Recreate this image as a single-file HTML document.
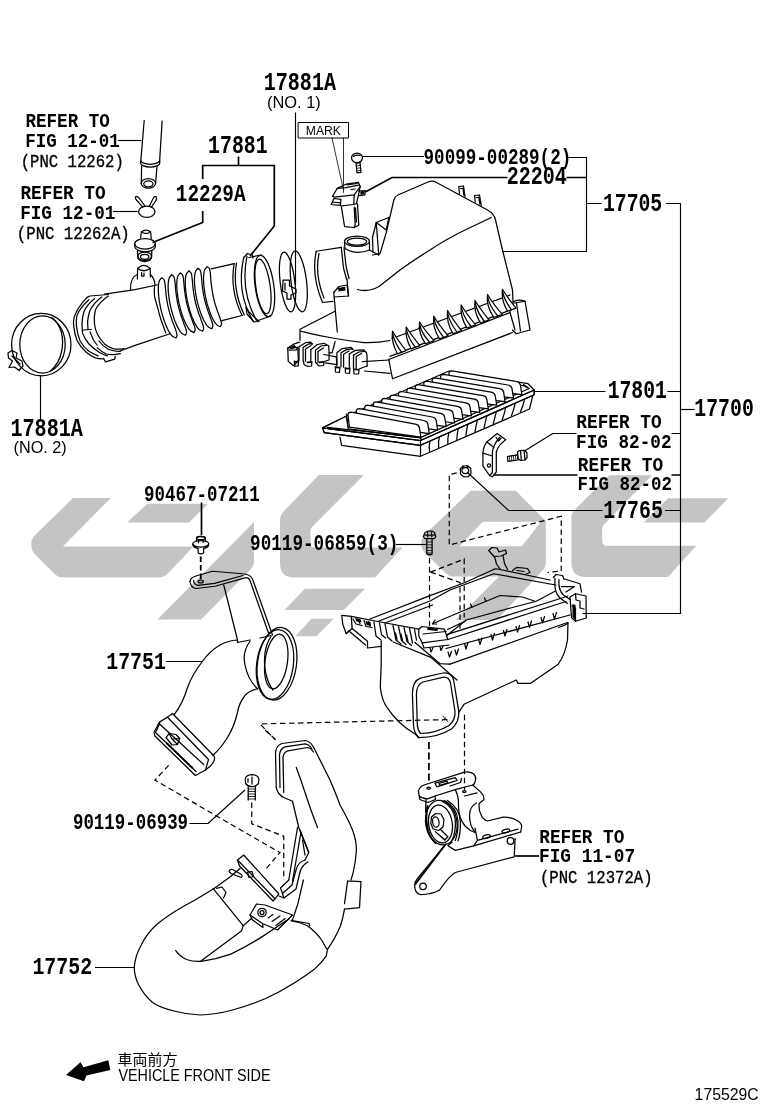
<!DOCTYPE html>
<html><head><meta charset="utf-8"><title>175529C</title>
<style>html,body{margin:0;padding:0;background:#fff}svg{display:block;will-change:transform}
.l{fill:none;stroke:#000;stroke-width:1.25;stroke-linecap:round;stroke-linejoin:round}
.t{fill:none;stroke:#000;stroke-width:0.8;stroke-linecap:round;stroke-linejoin:round}
.w{fill:#fff;stroke:#000;stroke-width:1.25;stroke-linecap:round;stroke-linejoin:round}
.k{fill:none;stroke:#000;stroke-width:1.7;stroke-linecap:butt;stroke-linejoin:miter}
.d{fill:none;stroke:#000;stroke-width:1.2;stroke-dasharray:5.5 3.5}
.b{fill:#000;stroke:none}
</style></head><body>
<svg width="760" height="1112" viewBox="0 0 760 1112">
<rect width="760" height="1112" fill="#fff"/>
<!-- watermark -->
<g fill="#c4c4c4" stroke="none">
<path d="M73 498 L110.8 498 L62.8 546.5 L193.4 546.5 L169 572.5 Q164.5 577.5 158 577.5 L64 577.5 Q58 577.5 54 573.5 L35 554.5 Q31.3 550.5 31.3 545 L31.3 544 Q31.3 538.5 35.5 534.5 Z"/>
<path d="M147.5 503.75 L208 503.75 L189 522.5 L127 522.5 Z"/>
<path d="M254 522 L254 562 Q254 566 251 569 L201 619.6 L157.5 619.6 Z"/>
<path d="M318.75 475 L363.75 475 L312 527 Q310.5 528.5 310.5 531 L310.5 543 Q310.5 547.5 315 547.5 L402.5 547.5 L375 577.5 L294 577.5 Q280 577.5 280 563 L280 521 Q280 515 284 511 Z"/>
<path d="M305 588.75 L365 588.75 L343.75 610 L284.5 610 Z"/>
<path d="M311.25 618.75 L333.75 618.75 L316.25 636.25 L295.5 636.25 Z"/>
<path fill-rule="evenodd" d="M470.8 490.7 L515.8 490.7 L545.8 521 L545.8 562 Q545.8 567 542.5 570.5 L497 620 L455.7 620 L499 576.5 L453 576.5 Q449 576.5 446 573.5 L424.5 552.5 Q421.6 549.5 421.6 546 L421.6 541 Q421.6 538 424 535.5 Z M482.6 521.8 L541 521.8 L522 546.3 L459.7 546.3 Z"/>
<path d="M609.3 475.2 L652 475.2 L603.5 525 Q602.2 526.5 602.2 529 L602.2 541 Q602.2 545.8 607 545.8 L696.2 545.8 L668 577 L586 577 Q571.4 577 571.4 563 L571.4 516 Q571.4 513 573.5 511 Z"/>
<path d="M668 498.2 L728.2 498.2 L704.5 522.6 L643.6 522.6 Z"/>
</g>

<!-- dashes -->
<g class="d">
<path d="M456.8 472.9 L449.25 474.5 V545 L561.25 516.25 V571 L547.5 572.5"/>
<path d="M429.5 558 V626"/>
<path d="M430.5 572.1 L464.2 559 V617.5"/>
<path d="M430.5 572.1 L460 582.5 V630"/>
<path d="M447.4 719.6 L259.9 723.9 L274.7 739.3"/>
<path d="M464.5 714.7 V790"/>
<path d="M168.7 765.4 L154.9 780.1 L230 823.75 L280 852.5 L265 870"/>
<path d="M251.75 802.5 V823.75 L283.75 836.25 V880"/>
<path d="M265 730 L276 740"/>
</g>
<path class="t" d="M443 716 L448 722 M442 721 L446 717.5"/>

<!-- pipes -->
<g class="l">
<path d="M144.2 120.3 L140.8 161"/>
<path d="M162.1 121 L159.6 161"/>
<path d="M140.8 160.5 A9.4 3.8 0 0 0 159.6 160.5 M140.6 163 A9.6 4 0 0 0 159.8 163 M140.8 160.5 L140.6 163 M159.6 160.5 L159.8 163"/>
<path d="M141.6 166 L141.3 184 M157 166.5 L155.6 183.5"/>
<ellipse cx="148.4" cy="183.3" rx="7.2" ry="4.8"/>
<ellipse cx="148.4" cy="183.8" rx="4.6" ry="3"/>
<ellipse cx="146.8" cy="211.7" rx="8.2" ry="5.6"/>
<path d="M142.5 206.8 L136 199.5 Q134.3 196.5 136.5 196.3 Q138.6 196.8 140.2 199.5 L145 206.2"/>
<path d="M149.3 206.2 L153.2 198.3 Q154.6 195.8 156.2 196.8 Q157.2 198.3 155.6 201 L151.6 206.8"/>
<path d="M140.6 238 L141.4 231.8 Q146 228.3 150.6 231.8 L151.2 238.5"/>
<path d="M142.5 232.5 Q146 234.5 149.8 232.5"/>
<ellipse cx="145" cy="243.8" rx="10.3" ry="5.2"/>
<path d="M134.7 244 L134.8 247 A10.3 5.3 0 0 0 155.3 247 L155.3 244"/>
<path d="M137.6 251 L137.8 257 A6.9 4.6 0 0 0 151.6 257 L151.8 251"/>
<ellipse cx="144.7" cy="256.3" rx="6.8" ry="4.2"/>
<ellipse cx="144.7" cy="256.8" rx="4.2" ry="2.5"/>
<path d="M137.4 279 L137.6 268.5 Q143.9 262 150.2 268.5 L150.4 277"/>
<path d="M137.6 268.5 Q143.9 273 150.2 268.5"/>
<path d="M141.6 272.5 V276 H144 V273"/>
<path d="M130.5 290.5 Q130 277 137.4 274.5 M150.4 274.5 Q154.5 278 155 285"/>
</g>

<!-- hose -->
<g class="l">
<!-- clamp NO.2 -->
<ellipse cx="41.3" cy="344.6" rx="29.7" ry="31.2"/>
<ellipse cx="42.5" cy="344.5" rx="22.7" ry="28.6"/>
<path d="M52 317.5 Q66 330 61.5 352 Q59 364 50 371.5"/>
<path d="M8 353 L12 350.5 L17 353 L16 358 L22 361 L23 366 L19 370.5 L14.5 367 L9 367.5 L12.5 361 L8.5 358 Z"/>
<path d="M12 356 L20 364"/>
<!-- hose left end rings -->
<path d="M87.1 297.4 Q77 308 74.2 317.2 Q73 322 73.75 326.4 Q74.5 334 77 340.3 Q80.5 347.5 86.2 352.2 Q90.5 355.8 95.4 357.8 Q99.5 359 103.7 358.7"/>
<path d="M88.9 299.7 Q80 307.5 77 315.4 Q75.8 321 76.5 326.4 Q77.3 334.5 80.2 341.2 Q83.8 347.5 89 351.3 Q93.5 354.3 98.2 355.9"/>
<path d="M94.5 298.8 Q87 304.5 83.9 311.7 Q82 318 82 324.6 L82.5 332.9 Q84.5 339 89 344 Q93.5 348.8 99.1 352.2 Q103 354.5 107.4 355.9"/>
<path d="M101.8 297 Q93 303.5 89.9 310.8 Q88 316 87.6 321.8 L88 329.2 M83.5 330 L91 329.5"/>
<path d="M108.3 296 Q99 302.5 95.4 309.9 Q93.7 317 94.5 323.7 Q95 329 97.2 333.8 Q100 339.5 104.6 343.9 Q108.5 347 112.9 348.6 Q118 349.8 124 348.6"/>
<path d="M99 341 Q103 346.5 108.3 349.3 Q114 351.8 120.3 351.3"/>
<path d="M97.2 347.6 Q101 351.5 106.4 354 Q113 355.3 120.3 353.6"/>
<path d="M90 332 L93.5 340 L97 345"/>
<path d="M87.1 297.4 L90 296 L108.3 294.5"/>
<path d="M103.7 358.7 L105.5 361.9 L114.7 359.1 L115.2 356.4"/>
<!-- tube left -->
<path d="M104.6 294.2 L135 289.6 L159 284.5"/>
<path d="M120 351 L135 345.3 L170 333.75"/>
<!-- tube right smooth -->
<path d="M211.2 268.8 L234.2 263.6"/>
<path d="M221 320.8 L242 315.5"/>
</g>
<g class="w">
<path d="M207.2 266.6 L204.9 269.4 L204.1 271.8 L203.8 274.1 L203.6 276.4 L203.5 278.7 L203.6 280.9 L203.7 283.1 L203.8 285.3 L204.1 287.5 L204.3 289.7 L204.7 291.9 L205.0 294.1 L205.4 296.2 L205.9 298.4 L206.4 300.5 L206.9 302.7 L207.5 304.8 L208.1 306.9 L208.8 309.0 L209.5 311.1 L210.3 313.2 L211.1 315.2 L212.0 317.3 L213.0 319.3 L214.1 321.3 L215.5 323.3 L217.1 325.2 L220.4 326.7 L220.4 326.7 L221.6 324.2 L221.2 322.0 L220.6 319.9 L219.9 317.8 L219.2 315.7 L218.4 313.6 L217.6 311.6 L216.9 309.5 L216.2 307.4 L215.5 305.3 L214.9 303.2 L214.3 301.0 L213.8 298.9 L213.3 296.8 L212.9 294.6 L212.5 292.4 L212.1 290.3 L211.8 288.1 L211.5 285.9 L211.2 283.7 L211.0 281.5 L210.8 279.3 L210.7 277.1 L210.5 274.9 L210.3 272.7 L209.9 270.5 L209.3 268.4 L207.2 266.6 Z"/>
<path d="M198.0 268.2 L195.7 271.0 L195.0 273.4 L194.6 275.8 L194.5 278.1 L194.4 280.4 L194.5 282.6 L194.6 284.9 L194.8 287.1 L195.1 289.3 L195.4 291.5 L195.7 293.7 L196.1 295.9 L196.5 298.1 L197.0 300.3 L197.5 302.4 L198.1 304.6 L198.7 306.7 L199.3 308.8 L200.0 310.9 L200.7 313.0 L201.5 315.1 L202.4 317.2 L203.3 319.3 L204.3 321.3 L205.5 323.3 L206.8 325.3 L208.5 327.2 L211.8 328.7 L211.8 328.7 L212.9 326.2 L212.6 324.0 L212.0 321.8 L211.2 319.7 L210.4 317.6 L209.7 315.5 L208.9 313.5 L208.1 311.4 L207.4 309.2 L206.7 307.1 L206.1 305.0 L205.5 302.9 L204.9 300.7 L204.4 298.6 L203.9 296.4 L203.5 294.2 L203.1 292.0 L202.8 289.8 L202.5 287.6 L202.2 285.4 L202.0 283.2 L201.8 281.0 L201.6 278.7 L201.4 276.5 L201.1 274.3 L200.8 272.1 L200.1 270.0 L198.0 268.2 Z"/>
<path d="M188.8 270.8 L186.5 273.6 L185.8 276.0 L185.4 278.4 L185.3 280.7 L185.2 283.0 L185.3 285.2 L185.4 287.5 L185.6 289.7 L185.9 291.9 L186.2 294.1 L186.5 296.3 L186.9 298.5 L187.3 300.7 L187.8 302.9 L188.3 305.0 L188.9 307.2 L189.5 309.3 L190.1 311.4 L190.8 313.5 L191.5 315.6 L192.3 317.7 L193.2 319.8 L194.1 321.9 L195.1 323.9 L196.3 325.9 L197.6 327.9 L199.3 329.8 L202.6 331.3 L202.6 331.3 L203.7 328.8 L203.4 326.6 L202.8 324.4 L202.0 322.3 L201.2 320.2 L200.5 318.1 L199.7 316.1 L198.9 314.0 L198.2 311.8 L197.5 309.7 L196.9 307.6 L196.3 305.5 L195.7 303.3 L195.2 301.2 L194.7 299.0 L194.3 296.8 L193.9 294.6 L193.6 292.4 L193.3 290.2 L193.0 288.0 L192.8 285.8 L192.6 283.6 L192.4 281.3 L192.2 279.1 L191.9 276.9 L191.6 274.7 L190.9 272.6 L188.8 270.8 Z"/>
<path d="M180.3 272.8 L178.0 275.6 L177.3 278.0 L176.9 280.3 L176.8 282.6 L176.7 284.9 L176.8 287.1 L176.9 289.3 L177.1 291.5 L177.4 293.7 L177.7 295.9 L178.0 298.1 L178.4 300.2 L178.8 302.4 L179.3 304.5 L179.8 306.7 L180.4 308.8 L181.0 310.9 L181.6 313.0 L182.3 315.1 L183.0 317.2 L183.8 319.2 L184.7 321.3 L185.6 323.3 L186.6 325.3 L187.8 327.3 L189.1 329.2 L190.8 331.1 L194.1 332.6 L194.1 332.6 L195.2 330.1 L194.9 327.9 L194.3 325.8 L193.5 323.7 L192.7 321.7 L192.0 319.6 L191.2 317.5 L190.4 315.5 L189.7 313.4 L189.0 311.3 L188.4 309.2 L187.8 307.1 L187.2 304.9 L186.7 302.8 L186.2 300.7 L185.8 298.5 L185.4 296.4 L185.1 294.2 L184.8 292.0 L184.5 289.8 L184.3 287.6 L184.1 285.4 L183.9 283.2 L183.7 281.0 L183.4 278.8 L183.1 276.7 L182.4 274.6 L180.3 272.8 Z"/>
<path d="M171.7 274.7 L169.4 277.5 L168.7 279.9 L168.3 282.3 L168.2 284.6 L168.1 286.9 L168.2 289.2 L168.3 291.4 L168.5 293.6 L168.8 295.9 L169.1 298.1 L169.4 300.3 L169.8 302.5 L170.2 304.6 L170.7 306.8 L171.2 309.0 L171.8 311.1 L172.4 313.2 L173.0 315.4 L173.7 317.5 L174.4 319.6 L175.2 321.7 L176.1 323.8 L177.0 325.9 L178.0 327.9 L179.2 329.9 L180.5 331.9 L182.2 333.8 L185.5 335.3 L185.5 335.3 L186.6 332.8 L186.3 330.6 L185.7 328.4 L184.9 326.3 L184.1 324.2 L183.4 322.1 L182.6 320.0 L181.8 317.9 L181.1 315.8 L180.4 313.7 L179.8 311.6 L179.2 309.4 L178.6 307.3 L178.1 305.1 L177.6 302.9 L177.2 300.8 L176.8 298.6 L176.5 296.4 L176.2 294.2 L175.9 292.0 L175.7 289.7 L175.5 287.5 L175.3 285.3 L175.1 283.0 L174.8 280.8 L174.5 278.6 L173.8 276.5 L171.7 274.7 Z"/>
<path d="M161.8 277.6 L159.5 280.4 L158.8 282.9 L158.5 285.2 L158.3 287.5 L158.3 289.8 L158.4 292.1 L158.5 294.3 L158.8 296.5 L159.0 298.7 L159.3 300.9 L159.7 303.1 L160.1 305.3 L160.5 307.5 L161.0 309.7 L161.5 311.8 L162.1 313.9 L162.7 316.1 L163.4 318.2 L164.1 320.3 L164.8 322.4 L165.6 324.5 L166.5 326.6 L167.4 328.6 L168.5 330.7 L169.6 332.7 L171.0 334.6 L172.7 336.5 L176.0 338.0 L176.0 338.0 L177.1 335.5 L176.7 333.3 L176.1 331.1 L175.4 329.0 L174.6 327.0 L173.8 324.9 L173.0 322.8 L172.2 320.7 L171.5 318.6 L170.8 316.5 L170.1 314.3 L169.5 312.2 L168.9 310.1 L168.4 307.9 L167.9 305.8 L167.5 303.6 L167.1 301.4 L166.7 299.2 L166.4 297.0 L166.1 294.8 L165.9 292.6 L165.7 290.4 L165.4 288.1 L165.2 285.9 L165.0 283.7 L164.6 281.5 L163.9 279.4 L161.8 277.6 Z"/>
</g>
<path class="l" d="M154.5 286 Q153.5 296 156.3 302.9 Q160 319 165.8 332.9"/>
<g class="l">
<!-- cuff lines -->
<path d="M234.2 263.6 Q229.5 290 242.1 315.5"/>
<path d="M236.5 263 Q232 289.5 244.3 315"/>
<!-- clamp ring on hose end -->
<path d="M243.75 257.5 Q236 292 253 321"/>
<path d="M247 256 Q240 291 256.5 320.5"/>
<path d="M243.75 257.5 L247.5 253.5 L252.5 255 L253 258"/>
<path d="M246 307 L249 312 L259 321.5 L254 322 L247 314 Z"/>
<!-- end opening -->
<ellipse cx="264.5" cy="286" rx="9.3" ry="31" transform="rotate(-8 264.5 286)"/>
<ellipse cx="263" cy="286.5" rx="7.2" ry="27.5" transform="rotate(-8 263 286.5)"/>
<path d="M249 257.5 L261 255"/>
<path d="M258 320.5 L269.5 316.5"/>
<!-- clamp NO.1 -->
<ellipse cx="287.5" cy="282" rx="7.3" ry="30" transform="rotate(-7 287.5 282)"/>
<ellipse cx="298.75" cy="281.5" rx="7.8" ry="30.5" transform="rotate(-7 298.75 281.5)"/>
<path d="M283 280 H289.5 V286 L296 289 V293 L291 295 V299 H287 V293 L282.5 291 Z"/>
<path d="M285 283 V290"/>
</g>

<!-- cap -->
<g class="l">
<!-- screw 90099 -->
<ellipse cx="357" cy="157.8" rx="5.5" ry="4.8"/>
<path d="M353.5 156.5 Q356 154.5 360 155.5"/>
<path d="M356 162.5 L357 172.8 L361 172.3 L360 162.3"/>
<path class="t" d="M356 163.5 L360 162.8 M356.3 166 L360.2 165.3 M356.6 168.5 L360.4 167.8 M356.9 171 L360.5 170.3"/>
<!-- MAF sensor 22204 -->
<path d="M332.6 196.2 L337.2 188.4 L345.9 184.2 L358.4 182.4 L360.2 186.5 L358.8 193.4 L356.5 203.6 L353.8 204.5 L341.8 205.9"/>
<path d="M337.2 188.4 L346 187.6 L358.5 185.2 M332.6 196.2 L334.4 197.1 L354.2 194.8 L360.2 186.5 M354.2 194.8 L353.8 204.5"/>
<path d="M347 184.8 L357 183.5 M351 189.5 L355 189"/>
<path d="M331.2 204.5 L334 198.5 L340.9 199.4 L340.4 205.4 Z M332.5 202 L340.6 202.8"/>
<path d="M358.8 191.1 L365.3 190.7 L364.8 194.8 L358.8 195.7 M361 192.3 L363.5 192.1 L363.3 193.6 L361 193.8 Z"/>
<path d="M341.3 206.3 L344.6 226.6 L354.2 227.5 L358.8 225.2 L357.5 204"/>
<path d="M354.2 207.2 L355.2 224.7 L354.2 227.5 M355.5 208 L356.5 222"/>
<!-- inlet tube of cap -->
<path d="M316.25 251.25 Q311 275 322.5 302.5"/>
<path d="M319 253.5 Q314.5 275 324 298"/>
<path d="M316.25 251.25 L341.25 247.3"/>
<path d="M322.5 302.5 L333 301.3"/>
<ellipse cx="357" cy="241.25" rx="12.5" ry="5.2"/>
<ellipse cx="357" cy="241.6" rx="9.8" ry="3.6"/>
<path d="M344.5 242 L345 248.5 Q356 255.5 369.5 250 L369.5 242"/>
<path d="M341.25 247.3 L343.5 268 L346.5 279 M344 247.5 L346 266 L349 278.5"/>
<path d="M372.5 237.5 L373 252.5 M369.5 250 L378.75 255"/>
<path d="M376.25 222.5 L388.75 217.5 L386.25 230 Z"/>
<path d="M376.25 222.5 L378.75 255"/>
<path d="M376.25 222.5 L372.5 237.5"/>
<!-- small bracket -->
<path d="M333.75 292.5 L339 286.5 L347 285 L348.5 296 L334 297"/>
<path class="b" d="M338 288 L345 286.8 L345.5 290.5 L338.5 291.5 Z"/>
<!-- neck -->
<path d="M333.75 292.5 L337.3 332"/>
<path d="M347 279 L348.5 296"/>
<!-- dome -->
<path d="M372.5 255 L380 253.75 L386.25 232.5 L394 199.5 Q395 196.3 398 195 L428 182 Q432.5 180 436.5 182.5 L487.5 210 Q494 213.5 495.5 220 L502.5 250 L512.5 290 L513 302"/>
<path d="M491.25 217.5 L462.5 231.25 Q444 240.5 430 250 Q413 260.5 400 270 Q388 279.5 379 286.5 Q368 292.5 357.5 289.5"/>
<path d="M458.75 186.5 L459.5 193.5 M458.75 186.5 L463.5 186 L465 196.5 M460.5 188.5 L463 188.3 L463.8 195"/>
<path d="M474.5 195.5 L475.3 202 M474.5 195.5 L479.5 195 L481.3 205.5 M476.3 197.5 L478.8 197.3 L479.8 204"/>
<!-- base -->
<path d="M335.5 311 L300 329.2 L300 340.3"/>
<path d="M305.5 332.4 Q318 335.5 332.4 338 Q349 341 364 342.6 Q378 343 390 340.5"/>
<path d="M305.5 332.4 L300.5 331"/>
<!-- clips group 1 -->
<path d="M287.7 348 L288.3 361.6 L293.7 365.8 L298.4 360.5 L297.8 347.4 Z"/>
<path d="M287.7 348 L294.3 343.9 L299.6 342.1 M289 350.2 L296.5 349.8 L297.8 347.4"/>
<path class="b" d="M289 347.5 L294.5 345 L296.5 347.2 L291 349.5 Z"/>
<path d="M299 360.5 L299 346.8 L305.5 342.7 L310.8 342.1 L312 344.5"/>
<path d="M303.1 361 L303.1 347.4 L309 343.8 L312.5 343.6"/>
<path d="M305.5 361 L305.5 349 L311 345.5"/>
<path d="M310.8 361.5 L310.8 349.8 L317.3 344.5 L323.9 343.3 L328.6 345.7 L329.2 352.8"/>
<path d="M315.5 362.5 L315.5 350.2 L321 346 L326.5 345.3"/>
<path d="M318 362.5 L318 351.5 L323.5 348"/>
<path d="M294.3 361 L294.6 366.2 L298.2 366 L298.6 361.5 M303.5 361 L304 364.5 L307.3 366.3 L311.5 366 L312 361.8 M315.8 362.5 L318.8 365.8 L323.5 365.5 L324 361.5 L329 360 L329.2 352.8"/>
<path class="b" d="M294.5 361 L298.4 360.7 L298.4 362.5 L294.5 362.8 Z M306.8 361.5 L311.8 361.3 L311.8 363 L306.8 363.2 Z M319 361.5 L323.8 361 L323.8 362.8 L319 363.2 Z"/>
<path d="M323.9 354.5 L336.3 356.9 L336.9 364.6 L325 362.8"/>
<path d="M335.1 341.5 L332.1 352.8 L329.2 352.8"/>
<!-- clips group 2 -->
<path d="M336.9 366 L336.9 352.8 L342.2 348.6 L351.1 347.4 L353 349.5"/>
<path d="M341 366.5 L341 352.8 L346.5 349.6 L352.5 348.8"/>
<path d="M343.6 367 L343.6 354.2 L349 351"/>
<path d="M349.3 367.5 L349.3 354 L355.2 350.4 L363.5 349.8 L366.5 352.8 L367.1 356.3 L367.1 366"/>
<path d="M353.5 368.2 L353.5 355.1 L359 352 L365 351.3"/>
<path d="M356.2 368.5 L356.2 356.5 L361.5 353.5"/>
<path d="M335.2 366.5 L335.5 372 L339.5 372.3 L340 367 M345.2 367.5 L345.5 373 L349.6 373.3 L350 368 M353.5 368.5 L354 373.8 L358.6 374 L359 369 L367.1 366"/>
<path class="b" d="M335.4 366.4 L339.8 366.8 L339.8 368.6 L335.4 368.2 Z M345.3 367.5 L349.8 367.9 L349.8 369.6 L345.3 369.2 Z M354 368.5 L358.8 368.9 L358.8 370.6 L354 370.2 Z"/>
<!-- flange -->
<path d="M362.4 361.6 L389.2 360 M364.7 371 L390 373.4"/>
<!-- rail -->
<path d="M388.75 359.5 L392.5 378.75 L512.5 332.5"/>
<path d="M388.75 359.5 L510 312.5"/>
<path d="M390 356.3 L507.5 311.2"/>
<!-- corner block -->
<path d="M510 303.75 L525 301.25 L530 330 L516.25 333.75 L512.5 330"/>
<path d="M510 303.75 L510 312.5 L515 330 M516.5 303 L520.5 331"/>
<path d="M513 302 Q518 298.5 525 301.25"/>
<!-- lower edge behind ribs -->
<path d="M392 338.5 L510 295"/>
</g>
<g class="w">
<path d="M397.5 353.8 Q391.0 342.5 392.5 331.2 Q397.0 338.9 406.0 350.6 Z"/>
<path d="M392.8 334.2 Q394.5 342.5 401.5 352.2" style="fill:none"/>
<path d="M411.2 348.8 Q404.8 337.9 406.2 327.0 Q410.8 334.3 419.8 345.6 Z"/>
<path d="M406.6 330.0 Q408.2 337.9 415.2 347.2" style="fill:none"/>
<path d="M425.5 343.8 Q418.0 332.9 419.5 322.0 Q424.0 329.3 434.0 340.6 Z"/>
<path d="M419.8 325.0 Q421.5 332.9 429.5 342.2" style="fill:none"/>
<path d="M439.5 338.8 Q432.2 327.5 433.8 316.2 Q438.2 323.9 448.0 335.6 Z"/>
<path d="M434.1 319.2 Q435.8 327.5 443.5 337.2" style="fill:none"/>
<path d="M453.0 333.8 Q446.0 322.1 447.5 310.5 Q452.0 318.5 461.5 330.6 Z"/>
<path d="M447.8 313.5 Q449.5 322.1 457.0 332.2" style="fill:none"/>
<path d="M467.0 328.0 Q459.8 316.5 461.2 305.0 Q465.8 312.9 475.5 324.8 Z"/>
<path d="M461.6 308.0 Q463.2 316.5 471.0 326.5" style="fill:none"/>
<path d="M480.5 323.0 Q473.5 311.8 475.0 300.5 Q479.5 308.1 489.0 319.8 Z"/>
<path d="M475.3 303.5 Q477.0 311.8 484.5 321.5" style="fill:none"/>
<path d="M493.8 317.5 Q486.0 306.0 487.5 294.5 Q492.0 302.4 502.2 314.3 Z"/>
<path d="M487.8 297.5 Q489.5 306.0 497.8 316.0" style="fill:none"/>
<path d="M507.5 311.2 Q501.0 300.4 502.5 289.5 Q507.0 296.8 516.0 308.1 Z"/>
<path d="M502.8 292.5 Q504.5 300.4 511.5 309.8" style="fill:none"/>
</g>

<!-- filter -->
<g class="l">
<path d="M340 437.4 L341.6 445.3 L420.5 456.3 L529.5 409 L533 394.7"/>
<path d="M420.5 445.3 L420.5 456.3"/>
<path d="M430.0 441.1 Q428.5 446.7 429.6 451.4"/>
<path d="M439.4 436.9 Q437.9 442.6 438.7 447.4"/>
<path d="M448.9 432.6 Q447.4 438.6 447.8 443.5"/>
<path d="M458.4 428.4 Q456.9 434.5 456.8 439.5"/>
<path d="M467.9 424.2 Q466.4 430.4 465.9 435.6"/>
<path d="M477.4 420.0 Q475.9 426.3 475.0 431.6"/>
<path d="M486.8 415.8 Q485.3 422.2 484.1 427.7"/>
<path d="M496.3 411.6 Q494.8 418.2 493.2 423.8"/>
<path d="M505.8 407.4 Q504.3 414.1 502.2 419.8"/>
<path d="M515.2 403.1 Q513.8 410.0 511.3 415.9"/>
<path d="M524.7 398.9 Q523.2 405.9 520.4 411.9"/>
</g>
<g class="w">
<path d="M322.6 427.9 L347.9 415.3 L449 371 L528 383.7 L534.2 390 L534.2 394.7 L420.5 445.3 L324.2 432.6 Z"/>
</g><g class="l">
<path d="M322.6 427.9 L420.5 440.5 L534.2 390"/>
<path d="M327.5 427.3 L420.5 437.6 L529 388.5"/>
<path d="M420.5 440.5 L420.5 445.3"/>
<path d="M523.5 384.5 L529 388.5 M518 386 Q523 384 527 387.5"/>
</g>
<g class="w">
<path d="M448.9 372.9 Q449.4 370.9 451.9 370.9 L516.4 381.5 Q519.9 382.1 520.4 385.1 L521.9 394.6 L450.4 385.9 Z"/>
<path d="M440.5 376.4 Q441.0 374.4 443.5 374.4 L508.0 385.0 Q511.5 385.6 512.0 388.6 L513.5 398.1 L442.0 389.4 Z"/>
<path d="M432.1 379.8 Q432.6 377.8 435.1 377.8 L499.6 388.6 Q503.1 389.2 503.6 392.2 L505.1 401.7 L433.6 392.8 Z"/>
<path d="M423.7 383.2 Q424.2 381.2 426.7 381.2 L491.2 392.1 Q494.7 392.8 495.2 395.8 L496.7 405.2 L425.2 396.2 Z"/>
<path d="M415.3 386.7 Q415.8 384.7 418.3 384.7 L482.8 395.7 Q486.3 396.3 486.8 399.3 L488.3 408.8 L416.8 399.7 Z"/>
<path d="M406.8 390.1 Q407.3 388.1 409.8 388.1 L474.3 399.2 Q477.8 399.8 478.3 402.8 L479.8 412.3 L408.3 403.1 Z"/>
<path d="M398.4 393.5 Q398.9 391.5 401.4 391.5 L465.9 402.8 Q469.4 403.4 469.9 406.4 L471.4 415.9 L399.9 406.5 Z"/>
<path d="M390.0 397.0 Q390.5 395.0 393.0 395.0 L457.5 406.3 Q461.0 406.9 461.5 409.9 L463.0 419.4 L391.5 410.0 Z"/>
<path d="M381.6 400.4 Q382.1 398.4 384.6 398.4 L449.1 409.9 Q452.6 410.5 453.1 413.5 L454.6 423.0 L383.1 413.4 Z"/>
<path d="M373.2 403.8 Q373.7 401.8 376.2 401.8 L440.7 413.4 Q444.2 414.1 444.7 417.1 L446.2 426.6 L374.7 416.8 Z"/>
<path d="M364.7 407.2 Q365.2 405.2 367.7 405.2 L432.2 417.0 Q435.7 417.6 436.2 420.6 L437.7 430.1 L366.2 420.2 Z"/>
<path d="M356.3 410.7 Q356.8 408.7 359.3 408.7 L423.8 420.5 Q427.3 421.1 427.8 424.1 L429.3 433.6 L357.8 423.7 Z"/>
<path d="M347.9 414.1 Q348.4 412.1 350.9 412.1 L415.4 424.1 Q418.9 424.7 419.4 427.7 L420.9 437.2 L349.4 427.1 Z"/>
</g>
<g class="l">
<path d="M346.5 414 L348 428.5"/>
</g>
<g class="w"><path d="M322.6 427.9 L346.3 416.3 L348.2 428.8 L420.9 437.9 L421 440.6 Z" /></g>
<g class="l"><path d="M327.5 427.3 L420.5 437.6 M322.6 427.9 L324.2 432.6 L420.5 445.3 L534.2 394.7 L534.2 390 M322.6 427.9 L420.5 440.5 L534.2 390"/></g>
<!-- bracket -->
<g class="l">
<path d="M497.1 433.4 L505.8 439.7 Q498 445 496.3 452 L496.3 472 L492.4 476.8 L489.5 475.5 L482.9 465.8 L482.9 453.2 Q483.5 446 486.8 442.1 Z"/>
<path d="M499.5 437.5 Q493.5 444.5 492.4 452 L492.4 472.5 L489.5 475.5"/>
<path d="M486.8 442.1 L493.8 447.2 M482.9 453.2 L492.4 456"/>
<path d="M496 437.5 L498.5 441 L501 438"/>
<circle cx="489" cy="465.5" r="1.6"/>
<!-- bolt -->
<path d="M507.4 456.5 L517.5 454.8 L518 460 L508 461.5 Z"/>
<path class="t" d="M509.4 456.2 L509.9 461.2 M511.4 455.9 L511.9 460.9 M513.4 455.6 L513.9 460.6 M515.4 455.2 L515.9 460.3"/>
<path d="M517.5 452 L519.5 450.5 L524 450.3 L526.8 452.5 L527.1 457.5 L525 460 L520.5 460.5 L518 458.5 Z"/>
<path d="M520.5 450.5 L521.3 460.3 M524 450.3 L525 460"/>
<!-- nut 17765 -->
<path d="M460.3 469 L463 466 L467.5 465.8 L470.6 468.3 L471 473.5 L468.3 476.6 L463.8 476.8 L460.6 474.2 Z"/>
<ellipse cx="465.3" cy="470.5" rx="3.4" ry="3"/>
<path d="M463 466 L463.2 468 M467.5 465.8 L467.6 467.6"/>
</g>

<!-- case -->
<g class="l">
<!-- bolt 90119-06859 -->
<path d="M423.4 536.5 L425 532.5 L428 531 L432 531 L434.5 532.5 L435.8 536.5 L434.5 538.5 L424.8 538.5 Z"/>
<path d="M427.5 532.5 L427.8 537 M431.5 532.5 L431.8 537 M425 535 H434.5"/>
<path d="M426.8 539 V554 Q429.5 555.5 432.1 554 V539"/>
<path class="t" d="M426.8 542 H432.1 M426.8 544.8 H432.1 M426.8 547.6 H432.1 M426.8 550.4 H432.1 M426.8 553 H432.1"/>
<!-- back-left rim lines -->
<path d="M342 615.3 L351.3 616.4 L377.8 621.5 L418.8 629.2"/>
<path d="M370 619 L427.4 596.7 L465 582.5 L492 570.3 Q494.5 568.6 497.5 569 L550 580"/>
<path d="M377.8 621.5 L430 601 L450 590 L493.75 573.75 L548.75 583.75"/>
<path d="M385 623 L432.5 605"/>
<!-- inner box -->
<path d="M432.5 623.75 L465 610 L500 595.5 L522.5 597 L535 601.25"/>
<path d="M472 607.5 L470.5 604 M486 601.5 L484.5 598 M432.5 623.75 L435 620 M432.5 623.75 L436.5 624"/>
<path d="M447.5 635 L466.25 620 L512.5 607.5 L536.25 601.25 L555 591.25"/>
<path d="M447.5 629.5 L465 621.25"/>
<!-- front-right rim -->
<path d="M446.6 634.6 L567.5 596.25"/>
<path d="M447.9 639.5 L566 601.5"/>
<path d="M446 648.5 L570 615"/>
<path d="M450 664.2 L567.5 622.5"/>
<path d="M440 663.75 L450 664.2"/>
<!-- v notches -->
<path d="M464.5 643.5 L466 649 L468 642.5 M478.5 639 L480 644.5 L482 638 M491 634.5 L492.5 640 L494.5 633.5 M503.5 630.5 L505 636 L507 629.5 M516 626.5 L517.5 632 L519.5 625.5 M528 622 L529.5 627.5 L531.5 621 M541 617.5 L542.5 623 L544.5 616.5 M553 613.5 L554.5 619 L556.5 612.5"/>
<path d="M448 652 L449.5 657 L451.5 651.5 M455 650 L456.5 655 L458.5 649"/>
<!-- wire clip -->
<path d="M488.75 550.5 L492 547.5 L497 548 L499 552 L505.5 550 L506.5 553.5 L501 556 L494 556.5 Z"/>
<path d="M494.5 556.5 L496.5 564 L500 569 M503 555.5 L504.5 563.5 L507.5 569.5"/>
<!-- small clip on rim -->
<path d="M512.5 570.5 L517 567.3 L527.5 568.5 L530 572.5 L526 574 M517 570.5 L524 571.5"/>
<!-- hose clip right -->
<path d="M553.5 577.5 L556 574.5 L562.5 575.5 L564 579"/>
<path d="M555 578.5 Q553.5 592 560 598 L567.5 603.5 M559 579.5 Q558 590 563.5 595 L570 599.5"/>
<path d="M548.75 583.75 L556 585"/>
<path d="M563.75 578.75 L580 583.75 L581.5 592 M561.5 586.5 L574.5 586.5 L566 592"/>
<!-- connector block -->
<path d="M570 597 L575.5 593.75 L586 596 L586.25 618 L575.5 621.25 L571.5 617.5 Z"/>
<path d="M575.5 593.75 L576 600 L580 601 L580 608 L584 609 M575.5 621.25 L575.5 608 L572 606"/>
<path class="b" d="M572.5 604 L575.5 605 L575.5 620 L572.5 617 Z"/>
<!-- left corner block -->
<path d="M341.8 615.5 L342.7 624 L346.1 633.5 L352.1 628.4 L351.3 616.4"/>
<path d="M346.1 633.5 L349 631"/>
<!-- clips along front-left rim -->
<path d="M353 619 L356 624 L362 625.5 M357.5 619.5 L360 623.5 M364 620.5 L366 626.5 L372 627.5 M368.5 621.5 L370 626"/>
<path class="b" d="M355 618 L360.5 619 L361.5 622.5 L356.5 621.5 Z M365.5 621 L370.5 622 L371 626 L366.5 625 Z"/>
<path d="M374 622 L376 636 L381 640 M379.5 623 L381.5 634.5 L385.5 638 M385 624 L387.5 637 L392 641"/>
<path d="M393 625.5 L396 640 L401 644 M398.5 626.5 L401.5 640.5 L406 644.5 M404 627.5 L407 641.5 L411.5 645.5 M409.5 628.5 L412.5 643 M414.5 629.5 L416.5 640"/>
<path d="M395.5 633 L397 639.5 M401 634 L402.5 640.5 M406.5 635 L408 641.5"/>
<!-- front corner piece -->
<path d="M418.8 629.2 L422 626.5 L444.5 629.2 L447.9 639.5 L422.2 642.9 L418.8 636 Z"/>
<path d="M422.2 642.9 L424 648 L449 645 M423 634 L446 631.5"/>
<path class="b" d="M427 627.5 L438 628.8 L437.5 631 L427.5 630 Z"/>
<path d="M430 648 L431 652 L433 647.6 M440 646.5 L441 650.5 L443 646.2"/>
<!-- body left -->
<path d="M352.1 628.4 L367.5 641.2 L367.5 648 L381.2 646.3"/>
<path d="M349 631 L365.5 645"/>
<path d="M381.2 641 L381.2 663.4 L380.3 687 Q381.5 700 387.3 707.8 Q398 724 415.2 734"/>
<path d="M393.2 642 L430.8 657.4 L457 680"/>
<path d="M415 642.5 L440 663.75"/>
<!-- outlet -->
<path d="M412.4 693.9 Q412.5 681 420.4 678.2 L443 673 Q451.5 672 453.6 680 L458.8 711.3 Q459.5 722 451.8 728.7 Q438 737.5 418.7 737.5 Q414 733 413.5 725.3 Z"/>
<path d="M416.4 694.5 Q416.5 684.5 423 682 L442.5 677.3 Q449 676.5 450.5 683 L455 711.5 Q455.5 720 449 725.5 Q437 733 420.5 733.5 Q417.5 730 417.3 724.5 Z"/>
<path d="M415.2 734 L418.7 737.5"/>
<!-- body bottom right -->
<path d="M459 712 L464 704.3 L516.3 680 L518 683.4 L530.3 683.4 L558.2 664.2 Q565 655 567.5 640 L568 622.5"/>
<path d="M558.5 627.5 Q564 626 567.8 623.5"/>
</g>

<!-- inlet -->
<g class="l">
<!-- bolt 90467 -->
<path d="M196.5 540.5 L196.5 537.5 Q200.75 535.5 205.3 537.5 L205.3 540.5"/>
<ellipse cx="200.9" cy="538" rx="4.4" ry="1.6"/>
<ellipse cx="200.75" cy="543.8" rx="8" ry="3.2"/>
<path d="M192.8 544.5 Q193.5 547.8 198 548.3 M208.7 544.5 Q208 547.8 203.8 548.3"/>
<path d="M198 548.3 L198.2 553 Q200.9 554.6 203.6 553 L203.8 548.3"/>
<path d="M198.5 540.8 L198.5 542.5 M203.2 540.8 L203.2 542.5"/>
<!-- tab bracket -->
<path d="M190 581.25 Q190.5 577.5 196 576 L212.5 571.25 L242.5 573.75 Q250 574 252.5 579 L272.5 635"/>
<path d="M190 581.25 Q190.5 587.5 196 588.5 L215 586.25 L245 577.8 Q248.5 577.3 250 580.5 L268.75 633.75"/>
<path d="M193.5 580.5 Q194 584.8 198 585.3 L214.5 583.3 L243 575.5"/>
<ellipse cx="200.75" cy="581.5" rx="2.6" ry="1.4"/>
<path d="M223.75 585 L237.5 640 L237.5 642.5 L250 640"/>
<!-- body -->
<path d="M237.5 640 Q228 640.5 220 645 Q210 651 202.5 661.25 Q192 675 187.5 687.5 Q183 703 174.2 714.7"/>
<path d="M250 641.25 Q242 652 245 665 Q248 680 257.5 688.75"/>
<path d="M257.5 688.75 Q249 691 245 695.5 Q239 703 237.5 712.5 Q234 727 227.5 737.5 Q221 748 212.9 755.3"/>
<path d="M260 638 L271 635.5"/>
<!-- ring -->
<ellipse cx="277" cy="663.75" rx="19.5" ry="36.6" transform="rotate(8 277 663.75)"/>
<ellipse cx="275" cy="664.5" rx="18.3" ry="35" transform="rotate(8 275 664.5)"/>
<ellipse cx="276.25" cy="661.5" rx="11.2" ry="27.5" transform="rotate(8 276.25 661.5)"/>
<path d="M271 636.5 Q262 650 265.5 672 Q268 684 273 690"/>
<!-- lower end flange -->
<path d="M169.6 715.7 L172.5 713.5 L214 756 Q216 760 211 765.4 L205.5 770 L195.4 775.5 L154.9 736 L154 732.2 L159.5 722.1 Z"/>
<path d="M167.5 717.3 L208.5 759.5 L205.5 770"/>
<path d="M159.5 724 L203.7 764.5"/>
<path d="M159.5 722.1 L159.5 724 L155.5 732.5 L196 771.5"/>
<path d="M166 737.5 L169 733.5 L176 734.5 L179.7 738.5 L177.5 744.5 L172 745 Z M169 733.5 L172 739 L177.5 744.5 M172 739 L179.7 738.5"/>
<path style="stroke-width:2;stroke-dasharray:1.2 1.2" d="M167 743.5 L192.5 768"/>
<!-- bolt 90119-06939 -->
<path d="M245.3 779 Q245.5 775 252 774.6 Q258.5 775 258.8 779 L258.5 783.5 Q256 786.6 252 786.6 Q248 786.6 245.6 783.5 Z"/>
<path d="M252 777 V784 M248 778.5 V782"/>
<path d="M248.2 786.6 L248.2 800 M255.3 786.6 L255.3 800"/>
<path class="t" d="M248.2 789 H255.3 M248.2 791.5 H255.3 M248.2 794 H255.3 M248.2 796.5 H255.3 M248.2 799 H255.3"/>
</g>
<path d="M200.75 556.5 V580" style="fill:none;stroke:#000;stroke-width:1.8;stroke-dasharray:5.5 3"/>

<!-- duct -->
<g class="l">
<!-- mouth -->
<path d="M276.25 787.5 L275.5 752.5 Q276 745.5 282 743.5 L305 740.5 Q311 741 315 750 Q322 764 330 780 Q336 794 340 805 Q348 819 352.5 830 Q357 842 356.25 852 Q355 868 351 880"/>
<path d="M280 787.5 L279.5 755 Q280 748.5 285 746.8 L305 743.8 Q309 744 312 749"/>
<path d="M283.75 792.5 L283 757.5 Q283.5 752 288 750.8 L307.5 747.5 Q311 748 313.5 752"/>
<path d="M276.25 787.5 Q278 795 283.75 797.5 L292.5 801.25"/>
<path d="M296.25 767.5 Q301 780 305 792.5 Q311 811 317.5 827.5"/>
<path d="M292.5 801.25 L298.75 827.5 L308.75 852.5 L305 860"/>
<!-- strut bracket -->
<path d="M297.5 827.5 L288.75 880 M301 832 L292.5 881"/>
<path d="M302.5 840 L305 855 M300 830 L308.75 852.5"/>
<path d="M305 860 Q298 862 296 870 L292 885 L282.5 893.5 M308 862 Q302 865 300 872 L296 889 L284 898"/>
<path d="M288.75 880 L280.5 888 L282.5 893.5 L284 898 L279 896"/>
<!-- tab right -->
<path d="M347.6 880.8 L361 881.6 L359.5 907.6 L344.5 909.2 M347.6 880.8 L344.5 903.7"/>
<path d="M344.5 909.2 Q343 918 340.5 925.8 Q335 939 327.9 948.7"/>
<!-- plate -->
<path d="M237.5 860 L243.75 855 L278.75 893.75 L275 898.75 Z"/>
<path d="M237.5 860 L239.5 866 L273 901 L275 898.75"/>
<path d="M229 871.5 Q229.5 869 232.5 869.5 L241.5 874.5 Q243 876.5 241 877.5 L231 873.5 Z"/>
<path d="M247.5 872 L252 871.5 L253.5 876.5 L249 877.5 Z"/>
<!-- tube straight -->
<path d="M240 868.5 L230 877 L213.75 888.75 L195 900 Q172 912 157.5 923.75 Q147 933 141.25 945 Q135 956 134.25 967.5 Q134.5 977 138.75 985 Q144 995 152.5 1002.5 Q162 1008.5 175 1011.25 Q187 1014.5 200 1015 Q216 1014.5 232.5 1010 Q249 1005.5 265 998.75 Q281 991.5 295 982.5 Q306 975.5 315.3 968.4 Q322 962 326.3 955.8 L327.5 949"/>
<path d="M213 888.4 L243.2 925.7 L241.4 931 L200.6 961.2"/>
<path d="M216.6 888.4 L222 887 L226 892.5 L223.5 898"/>
<path d="M175.7 950.6 Q180 956.5 186.4 959.5 Q194 962 202.4 961.2 Q217 959 230.8 954.1 Q247 946.5 262.7 936.4 Q277 927 289.4 918.6"/>
<path d="M291.6 921 Q300 922 307.4 925.8 Q316 932 321.6 940 L327.1 949.5"/><path d="M291 920.3 L309 923.5 L309.7 925.8"/>
<path d="M243.2 925.7 L252 918"/>
<path d="M303.4 880 L297.9 903.7 L292.4 920.3"/>

<!-- screw clamp -->
<path d="M250 915 L256.5 904 L265 905 L292.5 915 L277.5 930 L262.5 923.5 Z"/>
<path d="M250 915 L252 919.5 L263 927.5 L262.5 923.5"/>
<circle cx="262" cy="912.5" r="4.2"/>
<circle cx="262" cy="912.5" r="2"/>
<path d="M268 918 L273 914.5 M272 921.5 L280 916 M276 925.5 L285 918.5"/>
</g>

<!-- mount -->
<g class="l">
<!-- lower bracket -->
<path d="M515.1 838.4 L514.2 856.8 L455.3 872.5 Q449 876 439.6 890 Q432 894.5 420.3 894.6 Q414.7 893 414.7 886 Q414.5 882 417.5 878.5 L446 844"/>
<path style="stroke-width:1.8" d="M445 845 L415.5 884"/>
<circle cx="423" cy="886.3" r="3.3"/>
<circle cx="510.5" cy="841" r="3.3"/>
<!-- base plate -->
<path d="M520.7 832 L473.7 845.8 L455.3 850.4 L447.9 845.8 L452 842"/>
<path d="M517.9 829.2 L477.4 840.3 L473.7 845.8 M477.4 840.3 L475 828"/>
<ellipse cx="486.6" cy="836.6" rx="4" ry="1.7" transform="rotate(-14 486.6 836.6)"/>
<ellipse cx="505.9" cy="831" rx="4" ry="1.7" transform="rotate(-14 505.9 831)"/>
<!-- body right -->
<path d="M472.8 785 L481 792.4 Q484.5 796 483.8 799.7 L479.2 803.4 Q478.5 810 481 814.5 Q483 820 487.5 821 L503.2 817.2 Q512 817 517.9 821 Q522 823.5 521.6 827 L520.7 832"/>
<path d="M476.5 803 Q470 806 469.5 815 Q469.5 826 475 832"/>
<path d="M455.3 789.6 Q459 797 458.5 806 Q458.5 818 465 826 Q470 831 475 832.5"/>
<path d="M464.5 796 L477 792.8"/>
<!-- bushing -->
<ellipse cx="441.3" cy="822.6" rx="15.6" ry="22.4" transform="rotate(-9 441.3 822.6)"/>
<ellipse cx="440.5" cy="824" rx="11.8" ry="19" transform="rotate(-9 440.5 824)"/>
<path style="stroke-width:2" d="M427.5 806 Q424.8 820 428.5 832 Q431 839 435.5 843"/>
<path d="M441.6 801 Q454 807 455.3 820 Q456 832 452.1 840"/>
<path d="M444.7 800.5 Q457 807.5 457.9 820.5 Q458.5 832 455.3 840.5"/>
<path d="M447.5 800.5 Q459.5 808 460.3 821 Q461 832 458 841"/>
<path d="M431.5 817 L435.5 813.5 L441 814 L444 819.5 L443 827 L438.5 830.5 L433.2 829 L430.8 823.5 Z"/>
<ellipse cx="435.8" cy="822" rx="3.2" ry="5.2" transform="rotate(-9 435.8 822)"/>
<path d="M435.3 831.6 L444.7 840 M440.5 829.5 L447.9 836.8 M437.5 833.5 L445 840 M444.7 840 L447.9 836.8"/>
<path d="M426 799.5 L425.6 812"/>
<!-- top plate -->
<path d="M418.4 791.4 Q419.5 786.5 424 785 L464.5 772.1 Q470.5 771.5 473.7 774 Q476.5 777 475.5 780.4 Q475 783.8 472.8 785 L455.3 789.6 L435 796 L427.6 798.8 Q422 798.5 419.3 796 Z"/>
<path d="M419.3 796 L419.8 799.5 L427.8 802.5 L435.5 799.5 L435 796"/>
<path d="M435 783.2 L455.3 777.6 L457.1 780.4 L436.8 786.8 Z"/>
<path d="M439 783.5 L447 781.2 L447.8 783 L439.8 785.3 Z"/>
<path d="M450 786 L460.5 782.5 L461.5 778.5"/>
<ellipse cx="428.7" cy="788.2" rx="1.7" ry="1"/>
<ellipse cx="464.3" cy="791.5" rx="1.7" ry="1"/>
</g>
<path d="M428.9 742 V784" style="fill:none;stroke:#000;stroke-width:1.8;stroke-dasharray:7 3.5"/>

<!-- leaders -->
<g class="l" style="stroke-width:1.15;stroke-linecap:butt">
<path d="M118 140.5 H141.5"/>
<path d="M113 211.5 H137.5"/>
<path d="M295.5 112.5 V285"/>
<path d="M40.5 375 V421"/>
<path d="M362.5 156.5 H424 M568.5 157.5 H587"/>
<path d="M586.5 157 V252 M586.5 251.5 H502.5"/>
<path d="M586.5 203.5 H601.5 M666 203.5 H681"/>
<path d="M680.5 203 V614 M680.5 613.5 H582.5"/>
<path d="M534.5 391.5 H605.5 M667.5 391.5 H680"/>
<path d="M680 409.5 H694.5"/>
<path d="M524.5 451 L552.8 433.5 H576.5 M671.5 433.5 H680"/>
<path d="M467.5 472.5 L508.6 510.5 H602.5 M665 510.5 H680"/>
<path d="M396 544.5 H426.8"/>
<path d="M166 661.5 H202.7"/>
<path d="M189.5 823.5 H208 L245 790"/>
<path d="M95 967.5 H134"/>
</g>
<g class="k">
<path d="M515.1 856 H539"/>
<path d="M493.2 475 H577.5 M671.5 475 H680"/>
<path d="M365.3 192 L392 177.5 H507.5 M566.5 177.5 H587"/>
<path d="M238.5 156.5 V165.5 M202.7 179 V165.5 H274.3 V226 L250 256"/>
<path d="M202.7 211 V222.5 L152.5 242.5"/>
<path d="M201.5 502.5 V535"/>
</g>
<g>
<rect x="298.5" y="122.5" width="50" height="15.5" class="w" style="stroke-width:1"/>
<path class="t" d="M332 138 L343.3 189 M343.5 138 V192.5"/>
<path class="b" d="M66 1075 L80.5 1062.3 L83.5 1067.2 L108.3 1060.3 L110.3 1070 L86.5 1075.5 L84 1081.2 Z"/>
</g>

<text transform="translate(263.69,90.00) scale(0.8022,1)" font-family='"Liberation Mono","DejaVu Sans Mono",monospace' font-size="25.04" font-weight="bold" fill="#000">17881A</text>
<text transform="translate(267.01,107.80) scale(1.0459,1)" font-family='"Liberation Sans","DejaVu Sans",sans-serif' font-size="15.70" font-weight="normal" fill="#000">(NO. 1)</text>
<text transform="translate(25.46,127.00) scale(0.8579,1)" font-family='"Liberation Mono","DejaVu Sans Mono",monospace' font-size="20.49" font-weight="bold" fill="#000">REFER TO</text>
<text transform="translate(25.20,146.80) scale(0.8366,1)" font-family='"Liberation Mono","DejaVu Sans Mono",monospace' font-size="20.94" font-weight="bold" fill="#000">FIG 12-01</text>
<text transform="translate(20.72,167.00) scale(0.8955,1)" font-family='"Liberation Mono","DejaVu Sans Mono",monospace' font-size="17.45" font-weight="normal" fill="#000" stroke="#000" stroke-width="0.35">(PNC 12262)</text>
<text transform="translate(20.45,199.00) scale(0.8662,1)" font-family='"Liberation Mono","DejaVu Sans Mono",monospace' font-size="20.49" font-weight="bold" fill="#000">REFER TO</text>
<text transform="translate(20.19,218.90) scale(0.8420,1)" font-family='"Liberation Mono","DejaVu Sans Mono",monospace' font-size="20.94" font-weight="bold" fill="#000">FIG 12-01</text>
<text transform="translate(16.81,239.00) scale(0.8998,1)" font-family='"Liberation Mono","DejaVu Sans Mono",monospace' font-size="17.45" font-weight="normal" fill="#000" stroke="#000" stroke-width="0.35">(PNC 12262A)</text>
<text transform="translate(208.11,153.20) scale(0.7919,1)" font-family='"Liberation Mono","DejaVu Sans Mono",monospace' font-size="25.04" font-weight="bold" fill="#000">17881</text>
<text transform="translate(175.74,200.80) scale(0.7857,1)" font-family='"Liberation Mono","DejaVu Sans Mono",monospace' font-size="24.73" font-weight="bold" fill="#000">12229A</text>
<text transform="translate(305.83,134.80) scale(0.9510,1)" font-family='"Liberation Sans","DejaVu Sans",sans-serif' font-size="12.79" font-weight="normal" fill="#000">MARK</text>
<text transform="translate(10.49,435.60) scale(0.8033,1)" font-family='"Liberation Mono","DejaVu Sans Mono",monospace' font-size="25.04" font-weight="bold" fill="#000">17881A</text>
<text transform="translate(13.52,453.30) scale(1.0358,1)" font-family='"Liberation Sans","DejaVu Sans",sans-serif' font-size="15.70" font-weight="normal" fill="#000">(NO. 2)</text>
<text transform="translate(423.53,163.80) scale(0.8000,1)" font-family='"Liberation Mono","DejaVu Sans Mono",monospace' font-size="22.00" font-weight="bold" fill="#000">90099-00289(2)</text>
<text transform="translate(506.70,184.40) scale(0.8015,1)" font-family='"Liberation Mono","DejaVu Sans Mono",monospace' font-size="25.04" font-weight="bold" fill="#000">22204</text>
<text transform="translate(602.91,211.00) scale(0.7905,1)" font-family='"Liberation Mono","DejaVu Sans Mono",monospace' font-size="25.04" font-weight="bold" fill="#000">17705</text>
<text transform="translate(607.72,398.00) scale(0.7912,1)" font-family='"Liberation Mono","DejaVu Sans Mono",monospace' font-size="24.89" font-weight="bold" fill="#000">17801</text>
<text transform="translate(694.31,416.40) scale(0.7918,1)" font-family='"Liberation Mono","DejaVu Sans Mono",monospace' font-size="25.04" font-weight="bold" fill="#000">17700</text>
<text transform="translate(576.34,428.20) scale(0.8619,1)" font-family='"Liberation Mono","DejaVu Sans Mono",monospace' font-size="20.64" font-weight="bold" fill="#000">REFER TO</text>
<text transform="translate(576.09,447.70) scale(0.8567,1)" font-family='"Liberation Mono","DejaVu Sans Mono",monospace' font-size="20.64" font-weight="bold" fill="#000">FIG 82-02</text>
<text transform="translate(577.85,470.70) scale(0.8609,1)" font-family='"Liberation Mono","DejaVu Sans Mono",monospace' font-size="20.64" font-weight="bold" fill="#000">REFER TO</text>
<text transform="translate(577.60,490.20) scale(0.8475,1)" font-family='"Liberation Mono","DejaVu Sans Mono",monospace' font-size="20.64" font-weight="bold" fill="#000">FIG 82-02</text>
<text transform="translate(603.20,518.30) scale(0.8009,1)" font-family='"Liberation Mono","DejaVu Sans Mono",monospace' font-size="24.89" font-weight="bold" fill="#000">17765</text>
<text transform="translate(144.04,501.00) scale(0.7965,1)" font-family='"Liberation Mono","DejaVu Sans Mono",monospace' font-size="22.00" font-weight="bold" fill="#000">90467-07211</text>
<text transform="translate(250.03,550.00) scale(0.8033,1)" font-family='"Liberation Mono","DejaVu Sans Mono",monospace' font-size="22.00" font-weight="bold" fill="#000">90119-06859(3)</text>
<text transform="translate(106.20,669.10) scale(0.8108,1)" font-family='"Liberation Mono","DejaVu Sans Mono",monospace' font-size="24.58" font-weight="bold" fill="#000">17751</text>
<text transform="translate(72.94,829.20) scale(0.7933,1)" font-family='"Liberation Mono","DejaVu Sans Mono",monospace' font-size="22.00" font-weight="bold" fill="#000">90119-06939</text>
<text transform="translate(32.40,973.80) scale(0.8108,1)" font-family='"Liberation Mono","DejaVu Sans Mono",monospace' font-size="24.58" font-weight="bold" fill="#000">17752</text>
<text transform="translate(539.25,843.40) scale(0.8598,1)" font-family='"Liberation Mono","DejaVu Sans Mono",monospace' font-size="20.64" font-weight="bold" fill="#000">REFER TO</text>
<text transform="translate(538.97,862.20) scale(0.8640,1)" font-family='"Liberation Mono","DejaVu Sans Mono",monospace' font-size="20.64" font-weight="bold" fill="#000">FIG 11-07</text>
<text transform="translate(539.92,883.00) scale(0.8973,1)" font-family='"Liberation Mono","DejaVu Sans Mono",monospace' font-size="17.45" font-weight="normal" fill="#000" stroke="#000" stroke-width="0.35">(PNC 12372A)</text>
<text transform="translate(694.62,1100.00) scale(0.9698,1)" font-family='"Liberation Sans","DejaVu Sans",sans-serif' font-size="16.28" font-weight="normal" fill="#000">175529C</text>
<text transform="translate(118.43,1081.00) scale(0.8982,1)" font-family='"Liberation Sans","DejaVu Sans",sans-serif' font-size="15.99" font-weight="normal" fill="#000">VEHICLE FRONT SIDE</text>
<text x="117.5" y="1064.5" font-family='"Liberation Sans","Noto Sans CJK JP","IPAGothic",sans-serif' font-size="14.5" textLength="60" lengthAdjust="spacingAndGlyphs" fill="#000">車両前方</text>
</svg></body></html>
